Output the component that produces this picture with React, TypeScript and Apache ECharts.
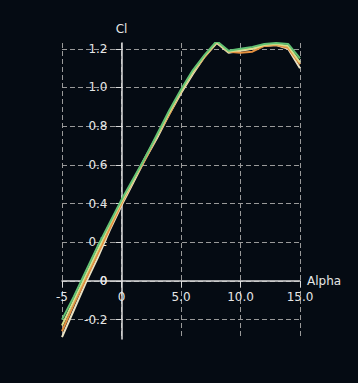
import React, { useEffect, useRef } from "react";
import * as echarts from "echarts";

const alpha = [-5, -4, -3, -2, -1, 0, 1, 2, 3, 4, 5, 6, 7, 8, 9, 10, 11, 12, 13, 14, 15];
const clGreen = [-0.2, -0.08, 0.05, 0.18, 0.3, 0.42, 0.53, 0.64, 0.76, 0.88, 0.99, 1.09, 1.17, 1.24, 1.19, 1.2, 1.21, 1.225, 1.23, 1.225, 1.15];
const clYellow = [-0.23, -0.1, 0.03, 0.16, 0.29, 0.41, 0.52, 0.64, 0.75, 0.87, 0.98, 1.08, 1.165, 1.235, 1.185, 1.195, 1.2, 1.22, 1.225, 1.215, 1.13];
const clOrange = [-0.26, -0.12, 0.01, 0.14, 0.27, 0.4, 0.52, 0.63, 0.75, 0.86, 0.98, 1.08, 1.16, 1.235, 1.185, 1.18, 1.185, 1.215, 1.22, 1.205, 1.12];
const clWhite = [-0.29, -0.15, -0.01, 0.12, 0.26, 0.39, 0.51, 0.63, 0.74, 0.86, 0.97, 1.07, 1.16, 1.23, 1.18, 1.19, 1.2, 1.215, 1.22, 1.2, 1.1];

const xTickValues = [-5, 0, 5, 10, 15];
const xTickLabels = ["-5", "0", "5.0", "10.0", "15.0"];
const yTickValues = [-0.2, 0, 0.2, 0.4, 0.6, 0.8, 1.0, 1.2];
const yTickLabels = ["-0.2", "0", "0.2", "0.4", "0.6", "0.8", "1.0", "1.2"];

const seriesNames = ["white", "orange", "yellow", "green"];
const seriesColors = ["#e9e2c4", "#e5903f", "#d9df8c", "#62c173"];
const seriesValues = [clWhite, clOrange, clYellow, clGreen];

const X_MIN = -5;
const X_MAX = 15;
const Y_MIN = -0.3;
const Y_MAX = 1.23;

const FONT = "DejaVu Sans";
const TEXT_COLOR = "#e6e6e6";
const Y_LABEL_MARGIN = 14;

function labelFor(values: number[], labels: string[], v: number) {
  for (let i = 0; i < values.length; i++) {
    if (Math.abs(values[i] - v) < 1e-6) return labels[i];
  }
  return "";
}

export default function App() {
  const ref = useRef<HTMLDivElement>(null);
  useEffect(() => {
    if (!ref.current) return;
    const W = 358;
    const H = 383;
    const grid = { left: 62, right: 58, top: 43, bottom: 44 };
    const gw = W - grid.left - grid.right;
    const gh = H - grid.top - grid.bottom;
    // move the axes to the zero lines (through the library's linear scale)
    const yAxisOffset = -(gw * (0 - X_MIN)) / (X_MAX - X_MIN);
    const xAxisOffset = -(gh * (0 - Y_MIN)) / (Y_MAX - Y_MIN);
    const chart = echarts.init(ref.current, undefined, { renderer: "svg" });
    const gridLine = { show: true, lineStyle: { color: "#9a9a9a", type: [5, 3] as any, width: 1 } };
    chart.setOption({
      animation: false,
      backgroundColor: "#050b13",
      grid,
      xAxis: {
        type: "value",
        min: X_MIN,
        max: X_MAX,
        interval: 5,
        offset: xAxisOffset,
        name: "Alpha",
        nameLocation: "end",
        nameGap: 7,
        nameTextStyle: { color: TEXT_COLOR, fontFamily: FONT, fontSize: 12, padding: [0, 0, 38, 0] },
        axisLine: { show: true, onZero: false, lineStyle: { color: "#dcdcdc", width: 1.5 } },
        axisTick: { show: true, length: 6, lineStyle: { color: "#dcdcdc" } },
        axisLabel: {
          color: TEXT_COLOR,
          fontFamily: FONT,
          fontSize: 12,
          margin: 10,
          hideOverlap: false,
          showMinLabel: true,
          showMaxLabel: true,
          formatter: (v: number) => labelFor(xTickValues, xTickLabels, v),
        },
        splitLine: gridLine,
      },
      yAxis: {
        type: "value",
        min: Y_MIN,
        max: Y_MAX,
        offset: yAxisOffset,
        name: "Cl",
        nameLocation: "end",
        nameGap: 8,
        nameTextStyle: { color: TEXT_COLOR, fontFamily: FONT, fontSize: 12 },
        axisLine: { show: true, onZero: false, lineStyle: { color: "#dcdcdc", width: 1.5 } },
        axisTick: { show: true, length: 6, customValues: yTickValues, lineStyle: { color: "#dcdcdc" } },
        axisLabel: {
          color: TEXT_COLOR,
          fontFamily: FONT,
          fontSize: 12,
          margin: Y_LABEL_MARGIN,
          hideOverlap: false,
          customValues: yTickValues,
          formatter: (v: number) => labelFor(yTickValues, yTickLabels, v),
        },
        splitLine: gridLine,
      },
      series: seriesValues.map((vals, i) => ({
        name: seriesNames[i],
        type: "line",
        showSymbol: false,
        symbol: "none",
        data: alpha.map((a, j) => [a, vals[j]]),
        lineStyle: { color: seriesColors[i], width: 2 },
        z: 3 + i,
      })),
    });
    // the y label at 0 is suppressed by the library where the axes cross; place it via the scale
    const origin = chart.convertToPixel({ gridIndex: 0 }, [0, 0]) as number[];
    if (origin) {
      chart.setOption({
        graphic: [
          {
            type: "text",
            x: origin[0] - Y_LABEL_MARGIN,
            y: origin[1],
            z: 10,
            style: {
              text: labelFor(yTickValues, yTickLabels, 0),
              fill: TEXT_COLOR,
              font: `12px "${FONT}"`,
              align: "right",
              verticalAlign: "middle",
            },
          },
        ],
      });
    }
    return () => chart.dispose();
  }, []);
  return <div ref={ref} style={{ position: "absolute", left: 0, top: 0, width: 358, height: 383 }} />;
}
